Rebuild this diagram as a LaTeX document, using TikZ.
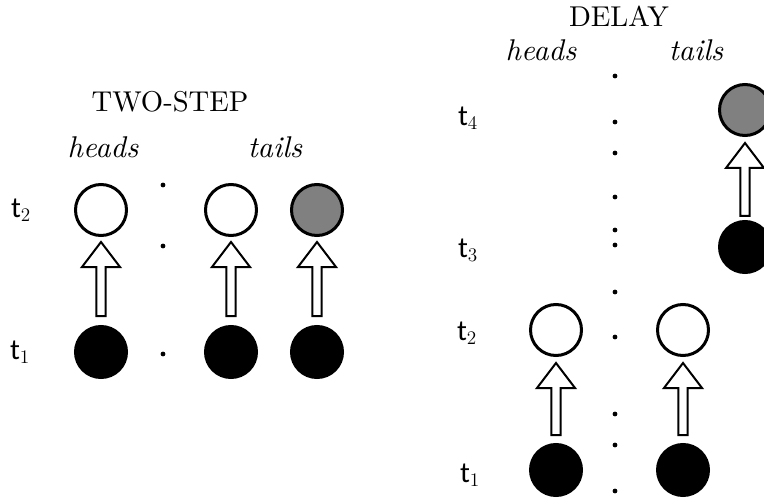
\documentclass[tikz,border=0pt]{standalone}
\usepackage{fontspec}
\newfontfamily\tfont{Carlito}
\usetikzlibrary{calc}
\tikzset{
  x=0.75pt, y=-0.75pt,
  token/.style={circle, draw, line width=2.25pt, minimum size=38.25pt, inner sep=0pt},
  emptytok/.style={token, fill=white},
  fulltok/.style={token, fill=black},
  greytok/.style={token, fill=gray},
  sep/.style={circle, fill=black, inner sep=0pt, minimum size=3.6pt},
  hdr/.style={font=\fontsize{10}{12}\selectfont, scale=2.15, transform shape},
  col/.style={font=\fontsize{10}{12}\selectfont\itshape, scale=2.25, transform shape},
  tlab/.style={font=\tfont\fontsize{22}{26}\selectfont},
  hollow/.style={draw, fill=white, line width=1.5pt, line join=miter},
}
% hollow block arrow from the top of #1 to the bottom of #2,
% leaving gaps #3 and #4 (in px units)
\newcommand\blockarrow[4]{%
  \path[hollow] let \p1=($(#1.north)+(0,-#3)$), \p2=($(#2.south)+(0,#4)$) in
    (\x1-3.4pt,\y1) -- (\x1-3.4pt,\y2-18.75pt) -- (\x1-14.25pt,\y2-18.75pt)
    -- (\x1,\y2) -- (\x1+14.25pt,\y2-18.75pt) -- (\x1+3.4pt,\y2-18.75pt)
    -- (\x1+3.4pt,\y1) -- cycle;}
\begin{document}
\begin{tikzpicture}
\useasboundingbox (0,0) rectangle (764,499);

% ---- two-step ----
\node[hdr] (hTwo) at (170,102) {TWO-STEP};
\node[col] (lHeads) at (103,147) {heads};
\node[col] (lTails) at (275,147) {tails};
\node[tlab] (lT2) at (21,210) {t$_2$};
\node[tlab] (lT1) at (20,352) {t$_1$};

\node[emptytok] (lh2) at (101,210) {};
\node[fulltok]  (lh1) at (101,352) {};
\node[emptytok] (lt2a) at (231,210) {};
\node[fulltok]  (lt1a) at (231,352) {};
\node[greytok]  (lt2b) at (317,210) {};
\node[fulltok]  (lt1b) at (317,352) {};

\node[sep] (ld1) at (163,185) {};
\node[sep] (ld2) at (163,246) {};
\node[sep] (ld3) at (163,354) {};

\blockarrow{lh1}{lh2}{9}{5}
\blockarrow{lt1a}{lt2a}{9}{5}
\blockarrow{lt1b}{lt2b}{9}{5}

% ---- delay ----
\node[hdr] (hDelay) at (619,16) {DELAY};
\node[col] (rHeads) at (541,50) {heads};
\node[col] (rTails) at (696,50) {tails};
\node[tlab] (rT4) at (468,118) {t$_4$};
\node[tlab] (rT3) at (468,250) {t$_3$};
\node[tlab] (rT2) at (467,333) {t$_2$};
\node[tlab] (rT1) at (470,475) {t$_1$};

\node[greytok]  (rt4) at (745,110) {};
\node[fulltok]  (rt3) at (745,247) {};
\node[emptytok] (rh2) at (556,330) {};
\node[fulltok]  (rh1) at (556,470) {};
\node[emptytok] (rt2) at (683,330) {};
\node[fulltok]  (rt1) at (683,470) {};

\foreach \n/\y in {1/76,2/122,3/153,4/197,5/230,6/245,7/292,8/337,9/414,10/445,11/491}
  \node[sep] (rd\n) at (615,\y) {};

\blockarrow{rt3}{rt4}{4}{6}
\blockarrow{rh1}{rh2}{8}{6}
\blockarrow{rt1}{rt2}{8}{6}
\end{tikzpicture}
\end{document}
